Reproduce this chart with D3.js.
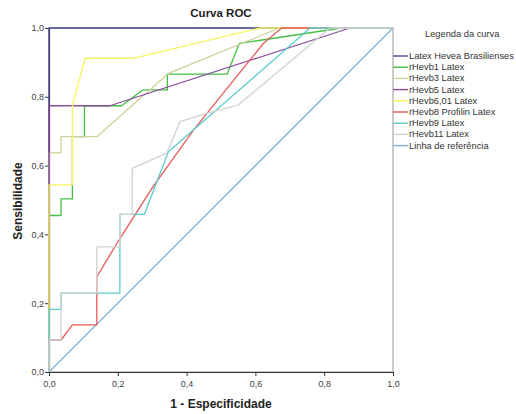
<!DOCTYPE html>
<html>
<head>
<meta charset="utf-8">
<script src="https://cdn.jsdelivr.net/npm/d3@7"></script>
<style>
body { margin: 0; background: #fff; }
text { font-family: "Liberation Sans", Arial, sans-serif; }
</style>
</head>
<body>
<script>
// series names, in legend order
var names = ["Latex Hevea Brasilienses", "rHevb1 Latex", "rHevb3 Latex", "rHevb5 Latex",
  "rHevb6,01 Latex", "rHevb8 Profilin Latex", "rHevb9 Latex", "rHevb11 Latex"];
var colors = ["#4a4a94", "#44c044", "#d0d09a", "#8c4c9e", "#f4f45c", "#e65a5a", "#5ccccc", "#d2d2d2"];
var refName = "Linha de referência";
var refColor = "#80b0da";

// [1 - especificidade, sensibilidade]
var latex = [[0,0],[0,1],[1,1]];
var hevb1 = [[0,0],[0,0.455],[0.035,0.455],[0.035,0.503],[0.068,0.503],[0.068,0.684],[0.103,0.684],
  [0.103,0.774],[0.211,0.774],[0.273,0.82],[0.344,0.82],[0.344,0.866],[0.518,0.866],[0.553,0.955],[0.85,1],[1,1]];
var hevb3 = [[0,0],[0,0.637],[0.035,0.637],[0.035,0.684],[0.139,0.684],[0.347,0.868],[0.67,1],[1,1]];
var hevb5 = [[0,0],[0,0.774],[0.177,0.774],[0.875,1],[1,1]];
var hevb601 = [[0,0],[0,0.544],[0.068,0.544],[0.068,0.776],[0.105,0.912],[0.245,0.912],[0.613,1],[1,1]];
var hevb8 = [[0,0],[0,0.093],[0.035,0.093],[0.068,0.137],[0.139,0.137],[0.139,0.277],[0.206,0.388],
  [0.30,0.535],[0.42,0.703],[0.623,0.955],[0.676,1],[1,1]];
var hevb9 = [[0,0],[0,0.182],[0.035,0.182],[0.035,0.229],[0.206,0.229],[0.206,0.458],[0.277,0.458],
  [0.347,0.64],[0.759,1],[1,1]];
var hevb11 = [[0,0],[0,0.093],[0.035,0.093],[0.035,0.229],[0.139,0.229],[0.139,0.364],[0.206,0.364],
  [0.206,0.458],[0.242,0.458],[0.242,0.592],[0.342,0.636],[0.381,0.728],[0.458,0.752],[0.55,0.776],[0.817,1],[1,1]];
var refLine = [[0,0],[1,1]];
var ticks = [0, 0.2, 0.4, 0.6, 0.8, 1.0];

var curves = [latex, hevb1, hevb3, hevb5, hevb601, hevb8, hevb9, hevb11];

var width = 516, height = 414;
var plotLeft = 49, plotRight = 393, plotTop = 28, plotBottom = 372;

var svg = d3.select("body").append("svg")
    .attr("width", width)
    .attr("height", height);

var x = d3.scaleLinear().domain([0, 1]).range([plotLeft, plotRight]);
var y = d3.scaleLinear().domain([0, 1]).range([plotBottom, plotTop]);
var fmt = function(d) { return d3.format(".1f")(d).replace(".", ","); };

// frame
svg.append("rect")
    .attr("x", plotLeft).attr("y", plotTop)
    .attr("width", plotRight - plotLeft).attr("height", plotBottom - plotTop)
    .attr("fill", "none").attr("stroke", "#a8a8a8").attr("stroke-width", 1.2);

var xAxis = svg.append("g")
    .attr("transform", "translate(0," + plotBottom + ")")
    .call(d3.axisBottom(x).tickValues(ticks).tickFormat(fmt).tickSize(4).tickSizeOuter(0));
var yAxis = svg.append("g")
    .attr("transform", "translate(" + plotLeft + ",0)")
    .call(d3.axisLeft(y).tickValues(ticks).tickFormat(fmt).tickSize(4).tickSizeOuter(0));

[xAxis, yAxis].forEach(function(a) {
  a.select(".domain").attr("stroke", "#333").attr("stroke-width", 1.2);
  a.selectAll(".tick line").attr("stroke", "#333");
  a.selectAll(".tick text").attr("fill", "#444").style("font-size", "9px")
    .style("font-family", "Liberation Sans, Arial, sans-serif");
});
xAxis.selectAll(".tick text").attr("dy", "0.85em");
yAxis.selectAll(".tick text").attr("x", -5);

var line = d3.line()
    .x(function(d) { return x(d[0]); })
    .y(function(d) { return y(d[1]); });

svg.append("path")
    .attr("d", line(refLine))
    .attr("fill", "none").attr("stroke", refColor).attr("stroke-width", 1.3);

svg.append("g").selectAll("path")
  .data(curves)
  .enter().append("path")
    .attr("d", line)
    .attr("fill", "none")
    .attr("stroke", function(d, i) { return colors[i]; })
    .attr("stroke-width", 1.3)
    .attr("stroke-linejoin", "round");

// titles
svg.append("text")
    .attr("x", (plotLeft + plotRight) / 2).attr("y", 17)
    .attr("text-anchor", "middle")
    .style("font-size", "11.5px").style("font-weight", "bold").attr("fill", "#222")
    .text("Curva ROC");

svg.append("text")
    .attr("x", (plotLeft + plotRight) / 2).attr("y", 408)
    .attr("text-anchor", "middle")
    .style("font-size", "12px").style("font-weight", "bold").attr("fill", "#222")
    .text("1 - Especificidade");

svg.append("text")
    .attr("transform", "translate(22,201) rotate(-90)")
    .attr("text-anchor", "middle")
    .style("font-size", "12px").style("font-weight", "bold").attr("fill", "#222")
    .text("Sensibilidade");

// legend
var legendNames = names.concat([refName]);
var legendColors = colors.concat([refColor]);

svg.append("text")
    .attr("x", 425).attr("y", 37)
    .style("font-size", "9.3px").attr("fill", "#333")
    .text("Legenda da curva");

var item = svg.append("g").selectAll("g")
  .data(legendNames)
  .enter().append("g")
    .attr("transform", function(d, i) { return "translate(0," + (56 + i * 11.2) + ")"; });

item.append("line")
    .attr("x1", plotRight).attr("x2", 408)
    .attr("stroke", function(d, i) { return legendColors[i]; })
    .attr("stroke-width", 1.4);

item.append("text")
    .attr("x", 409).attr("dy", "0.33em")
    .style("font-size", "9.3px").attr("fill", "#333")
    .text(function(d) { return d; });
</script>
</body>
</html>
